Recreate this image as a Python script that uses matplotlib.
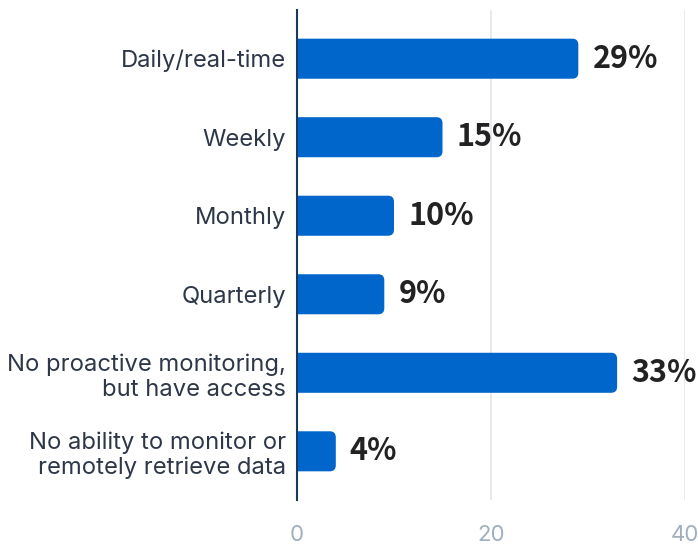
import matplotlib
matplotlib.use('Agg')
import matplotlib.pyplot as plt
from matplotlib.patches import FancyBboxPatch

categories = ['Daily/real-time', 'Weekly', 'Monthly', 'Quarterly',
              'No proactive monitoring,\nbut have access',
              'No ability to monitor or\nremotely retrieve data']
values = [29, 15, 10, 9, 33, 4]
xticks = [0, 20, 40]

bar_color = '#0066cc'
bar_h = 0.51

fig = plt.figure(figsize=(6.98, 5.44), dpi=100, facecolor='white')
ax = fig.add_axes([0.4255, 0.0809, 0.9814 - 0.4255, 0.9816 - 0.0809])

ax.set_xlim(0, 40)
ax.set_ylim(len(values) - 1 + 0.62, -0.62)

# rounded right end; box starts left of 0 so the axes clip the left corners
r_x = 0.62
px_per_x = 388 / 40
px_per_y = 490 / (len(values) - 1 + 1.24)
for i, v in enumerate(values):
    y0 = i - bar_h / 2
    ax.add_patch(FancyBboxPatch((-2, y0), v + 2, bar_h,
                                boxstyle='round,pad=0,rounding_size=%f' % r_x,
                                mutation_aspect=px_per_x / px_per_y,
                                facecolor=bar_color, edgecolor='none', zorder=3))
    ax.text(v + 1.45, i, '%d%%' % v, va='center', ha='left', fontsize=22,
            fontweight='bold', family=['Noto Sans CJK SC', 'DejaVu Sans'],
            color='#222222', zorder=4)

ax.set_yticks(range(len(categories)))
ax.set_yticklabels(categories, family=['Inter', 'DejaVu Sans'], fontsize=17.1,
                   color='#2d3748', linespacing=1.18)
ax.set_xticks(xticks)
ax.set_xticklabels([str(t) for t in xticks], family=['Inter', 'DejaVu Sans'],
                   fontsize=16, color='#a0aec0')

ax.tick_params(axis='y', length=0, pad=8)
ax.tick_params(axis='x', length=0, pad=18)
for s in ['top', 'right', 'bottom']:
    ax.spines[s].set_visible(False)
ax.spines['left'].set_color('#1a3a5c')
ax.spines['left'].set_linewidth(1.5)
ax.spines['left'].set_zorder(5)

ax.grid(axis='x', color='#e2e8f0', linewidth=1.2, zorder=0)
ax.set_axisbelow(True)

fig.savefig('out.png', dpi=100, facecolor='white')
